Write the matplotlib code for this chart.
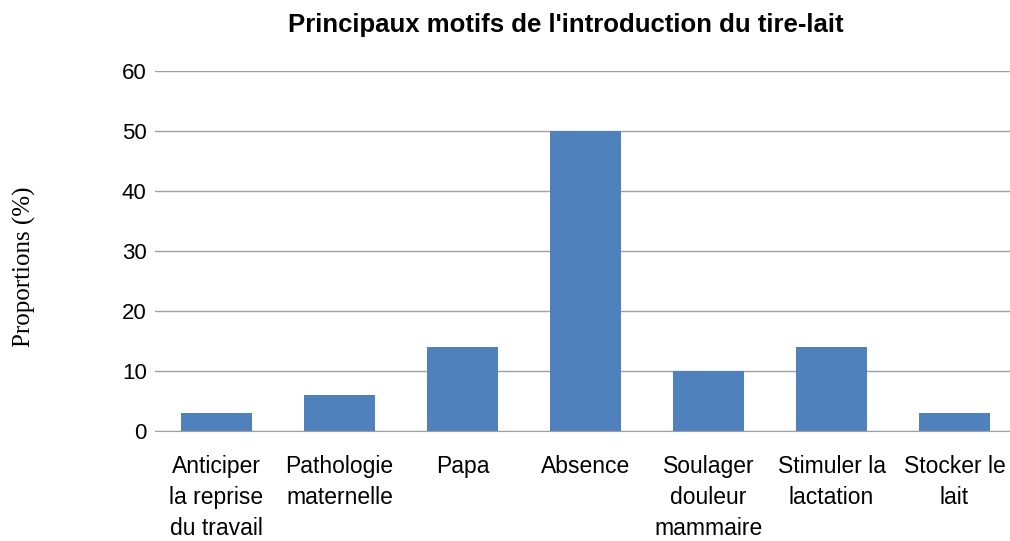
import matplotlib
matplotlib.use("Agg")
import matplotlib.pyplot as plt
import numpy as np

categories = ["Anticiper\nla reprise\ndu travail", "Pathologie\nmaternelle", "Papa",
              "Absence", "Soulager\ndouleur\nmammaire", "Stimuler la\nlactation",
              "Stocker le\nlait"]
values = [3, 6, 14, 50, 10, 14, 3]
yticks = [0, 10, 20, 30, 40, 50, 60]

plt.rcParams['font.family'] = ['Liberation Sans', 'DejaVu Sans']

fig = plt.figure(figsize=(10.1, 5.41), dpi=100)
ax = fig.add_axes([155 / 1010, 1 - 431 / 541, 861 / 1010, 360 / 541])

x = np.arange(len(categories))
ax.bar(x, values, width=0.57, color="#4f81bd", zorder=3)

ax.set_xlim(-0.5, len(categories) - 0.5)
ax.set_ylim(0, 60)
ax.set_yticks(yticks)
ax.set_xticks(x)
ax.set_xticklabels(categories, fontsize=16.5, linespacing=1.45, va="top")
ax.tick_params(axis="x", length=0, pad=17)
ax.tick_params(axis="y", length=0, pad=6, labelsize=16)
ax.yaxis.grid(True, color="#a0a0a0", linewidth=1.0, zorder=0)

for s in ["top", "right", "left"]:
    ax.spines[s].set_visible(False)
ax.spines["bottom"].set_color("#a0a0a0")

fig.text(24 / 1010, 1 - 267 / 541, "Proportions (%)", rotation=90,
         ha="center", va="center", fontsize=18, family="Liberation Serif")
fig.text(0.56, 0.953, "Principaux motifs de l'introduction du tire-lait",
         ha="center", va="center", fontsize=18.5, fontweight="bold")

fig.savefig("out.png", dpi=100)
